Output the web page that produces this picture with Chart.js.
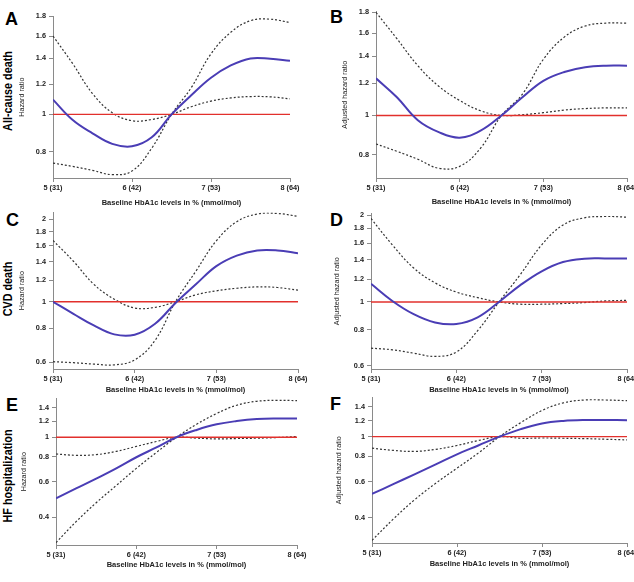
<!DOCTYPE html>
<html>
<head>
<meta charset="utf-8">
<script src="https://cdn.jsdelivr.net/npm/chart.js@4/dist/chart.umd.min.js"></script>
<style>
  html, body { margin: 0; padding: 0; background: #fff; overflow: hidden; }
  body { width: 634px; height: 582px; position: relative; font-family: "Liberation Sans", Arial, sans-serif; }
  canvas { position: absolute; }
  .letter { position: absolute; font-weight: bold; font-size: 18px; line-height: 1; color: #000; }
  .row { position: absolute; font-weight: bold; font-size: 13.5px; line-height: 1; white-space: nowrap; color: #000;
         transform: translate(-50%, -50%) rotate(-90deg) scaleX(0.8); }
</style>
</head>
<body>

<div class="letter" style="left:5px;top:10px">A</div>
<div class="letter" style="left:330px;top:8px">B</div>
<div class="letter" style="left:6px;top:211px">C</div>
<div class="letter" style="left:330px;top:211px">D</div>
<div class="letter" style="left:6px;top:396px">E</div>
<div class="letter" style="left:330px;top:395px">F</div>

<div class="row" style="left:8px;top:91px">All-cause death</div>
<div class="row" style="left:8px;top:289px">CVD death</div>
<div class="row" style="left:8px;top:476px">HF hospitalization</div>

<script>
const hba1c = [5, 5.25, 5.5, 5.75, 6, 6.25, 6.5, 6.75, 7, 7.25, 7.5, 7.75, 8];
const xTickValues = [5, 6, 7, 8];
const xTickLabels = ['5 (31)', '6 (42)', '7 (53)', '8 (64)'];
const xTitle = 'Baseline HbA1c levels in % (mmol/mol)';
const refValue = 1;

const yTicksAB = [0.8, 1, 1.2, 1.4, 1.6, 1.8];
const yTicksCD = [0.6, 0.8, 1, 1.2, 1.4, 1.6, 1.8, 2];
const yTicksEF = [0.4, 0.6, 0.8, 1, 1.2, 1.4];

// hazard ratio (blue) and the two CI curves (dotted).
// ci1 = the flat one (upper bound left of 6.5, lower bound right of it)
// ci2 = the steep one (lower bound left of 6.5, upper bound right of it)
const aHr  = [1.093, 0.967, 0.893, 0.838, 0.826, 0.872, 1.0, 1.122, 1.246, 1.341, 1.399, 1.396, 1.379];
const aCi1 = [1.60, 1.355, 1.133, 1.01, 0.963, 0.97, 1.0, 1.047, 1.083, 1.104, 1.113, 1.111, 1.098];
const aCi2 = [0.747, 0.732, 0.715, 0.697, 0.712, 0.817, 1.0, 1.174, 1.438, 1.636, 1.754, 1.77, 1.735];

const bHr  = [1.236, 1.109, 0.973, 0.909, 0.881, 0.917, 1.0, 1.109, 1.218, 1.281, 1.316, 1.328, 1.328];
const bCi1 = [1.80, 1.549, 1.328, 1.181, 1.089, 1.027, 1.0, 1.004, 1.016, 1.031, 1.04, 1.044, 1.044];
const bCi2 = [0.85, 0.815, 0.779, 0.74, 0.748, 0.83, 1.0, 1.129, 1.377, 1.563, 1.665, 1.693, 1.693];

const cHr  = [1.0, 0.903, 0.819, 0.76, 0.758, 0.831, 0.99, 1.158, 1.349, 1.474, 1.54, 1.54, 1.503];
const cCi1 = [1.674, 1.406, 1.158, 1.022, 0.949, 0.954, 1.0, 1.06, 1.096, 1.12, 1.133, 1.127, 1.102];
const cCi2 = [0.604, 0.599, 0.592, 0.588, 0.613, 0.723, 1.0, 1.294, 1.669, 1.96, 2.09, 2.1, 2.05];

const dHr  = [1.156, 1.008, 0.907, 0.849, 0.838, 0.884, 1.0, 1.144, 1.278, 1.376, 1.413, 1.416, 1.416];
const dCi1 = [1.949, 1.578, 1.312, 1.165, 1.082, 1.035, 1.0, 0.982, 0.982, 0.987, 0.995, 1.008, 1.013];
const dCi2 = [0.691, 0.682, 0.664, 0.647, 0.67, 0.795, 1.0, 1.245, 1.578, 1.85, 1.959, 1.98, 1.97];

const eHr  = [0.497, 0.556, 0.622, 0.70, 0.795, 0.89, 1.0, 1.087, 1.159, 1.203, 1.231, 1.24, 1.24];
const eCi1 = [0.825, 0.813, 0.819, 0.85, 0.9, 0.952, 1.0, 0.989, 0.981, 0.985, 0.989, 0.996, 1.008];
const eCi2 = [0.299, 0.38, 0.472, 0.575, 0.70, 0.84, 1.0, 1.159, 1.312, 1.442, 1.509, 1.526, 1.52];

const fHr  = [0.523, 0.584, 0.653, 0.73, 0.819, 0.905, 1.0, 1.089, 1.16, 1.195, 1.208, 1.208, 1.204];
const fCi1 = [0.878, 0.856, 0.846, 0.866, 0.905, 0.957, 1.0, 0.982, 0.985, 0.982, 0.978, 0.971, 0.964];
const fCi2 = [0.309, 0.393, 0.489, 0.59, 0.70, 0.83, 1.0, 1.172, 1.345, 1.465, 1.514, 1.514, 1.503];

const blue = '#4a3db5';
const red = '#e2302c';
const dots = '#333333';
const axisGrey = '#8a8a8a';

Chart.defaults.font.family = '"Liberation Sans", Arial, sans-serif';
Chart.defaults.color = '#222';

// plot box of each panel on the page (left/right/top/bottom of the plot area)
const panels = [
  { hr: aHr, ci1: aCi1, ci2: aCi2, yTicks: yTicksAB, yMin: 0.683, yMax: 1.8,  yTitle: 'Hazard ratio',
    l: 53,  r: 290, t: 15,  b: 178, yTitleX: 22.5, xTitleY: 202 },
  { hr: bHr, ci1: bCi1, ci2: bCi2, yTicks: yTicksAB, yMin: 0.726, yMax: 1.81, yTitle: 'Adjusted hazard ratio',
    l: 376, r: 627, t: 10,  b: 178, yTitleX: 345, xTitleY: 201 },
  { hr: cHr, ci1: cCi1, ci2: cCi2, yTicks: yTicksCD, yMin: 0.568, yMax: 2.12, yTitle: 'Hazard ratio',
    l: 53,  r: 298, t: 211, b: 369, yTitleX: 22.5, xTitleY: 389 },
  { hr: dHr, ci1: dCi1, ci2: dCi2, yTicks: yTicksCD, yMin: 0.585, yMax: 2.03, yTitle: 'Adjusted hazard ratio',
    l: 371, r: 627, t: 212, b: 369, yTitleX: 337, xTitleY: 389 },
  { hr: eHr, ci1: eCi1, ci2: eCi2, yTicks: yTicksEF, yMin: 0.291, yMax: 1.56, yTitle: 'Hazard ratio',
    l: 56,  r: 297, t: 397, b: 545, yTitleX: 24, xTitleY: 564 },
  { hr: fHr, ci1: fCi1, ci2: fCi2, yTicks: yTicksEF, yMin: 0.304, yMax: 1.56, yTitle: 'Adjusted hazard ratio',
    l: 372, r: 627, t: 396, b: 543, yTitleX: 339, xTitleY: 563 }
];

function pts(vals) {
  return vals.map((v, i) => ({ x: hba1c[i], y: v }));
}

function drawPanel(p) {
  const yFont = 7.2, xFont = 7.5;
  const padTop = 6, padRight = 14;
  const left = Math.round(p.yTitleX - yFont * 1.2 / 2);
  const top = p.t - padTop;
  const width = p.r + padRight - left;
  const height = Math.round(p.xTitleY + xFont * 1.2 / 2) - top;
  const yW = p.l - left;
  const xH = height - (p.b - top);

  const cv = document.createElement('canvas');
  cv.width = width;
  cv.height = height;
  cv.style.left = left + 'px';
  cv.style.top = top + 'px';
  document.body.appendChild(cv);

  const line = (data, color, w, dash, order) => ({
    data: data, borderColor: color, borderWidth: w, borderDash: dash,
    pointRadius: 0, fill: false, tension: 0.4, order: order
  });

  new Chart(cv, {
    type: 'line',
    data: {
      datasets: [
        line(pts(p.hr), blue, 2, [], 0),
        line([{ x: hba1c[0], y: refValue }, { x: hba1c[hba1c.length - 1], y: refValue }], red, 1.4, [], 1),
        line(pts(p.ci1), dots, 1.2, [2, 2], 2),
        line(pts(p.ci2), dots, 1.2, [2, 2], 2)
      ]
    },
    options: {
      responsive: false,
      animation: false,
      layout: { padding: { top: padTop, right: padRight, left: 0, bottom: 0 } },
      plugins: { legend: { display: false }, tooltip: { enabled: false } },
      scales: {
        x: {
          type: 'linear', min: 5, max: 8,
          afterBuildTicks: s => { s.ticks = xTickValues.map(v => ({ value: v })); },
          afterFit: s => { s.height = xH; },
          grid: { drawOnChartArea: false, tickLength: 4, color: axisGrey },
          border: { color: axisGrey },
          ticks: { autoSkip: false, maxRotation: 0, padding: 2, font: { size: 7.3, weight: 'bold' },
                   callback: (v, i) => xTickLabels[i] },
          title: { display: true, text: xTitle, padding: 0, font: { size: xFont, weight: 'bold' } }
        },
        y: {
          type: 'logarithmic', min: p.yMin, max: p.yMax,
          afterBuildTicks: s => { s.ticks = p.yTicks.map(v => ({ value: v })); },
          afterFit: s => { s.width = yW; },
          grid: { drawOnChartArea: false, tickLength: 4, color: axisGrey },
          border: { color: axisGrey },
          ticks: { padding: 3, font: { size: 7.3, weight: 'bold' }, callback: v => String(v) },
          title: { display: true, text: p.yTitle, padding: 0, font: { size: yFont } }
        }
      }
    }
  });
}

panels.forEach(drawPanel);
</script>
</body>
</html>
